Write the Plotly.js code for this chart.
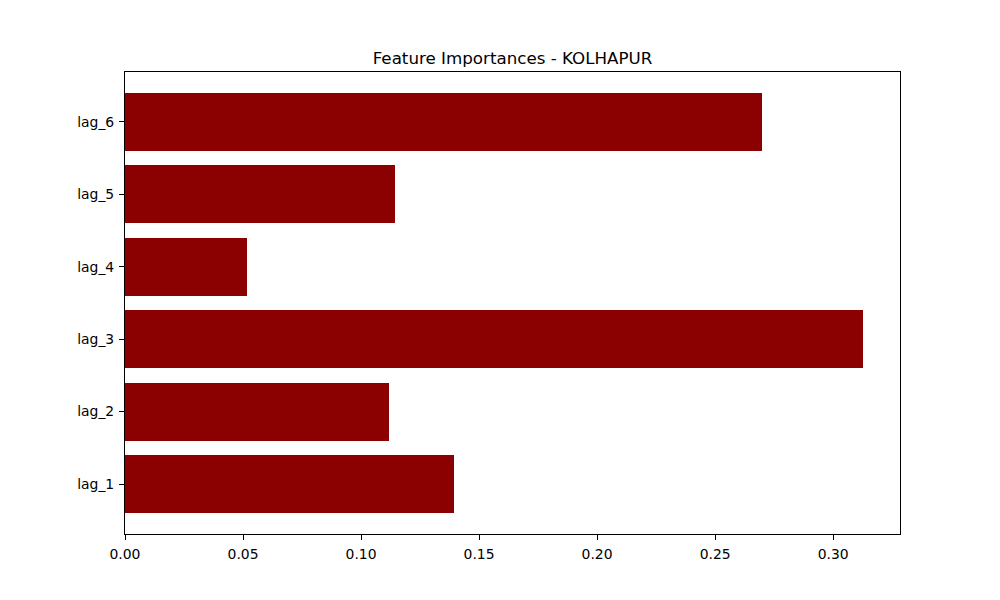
<!DOCTYPE html>
<html>
<head>
<meta charset="utf-8">
<script src="https://cdn.plot.ly/plotly-3.0.1.min.js"></script>
<style>
  html, body { margin: 0; padding: 0; background: #fff; }
  #chart { width: 1000px; height: 600px; }
</style>
</head>
<body>
<div id="chart"></div>
<script>
// ─── Data ───
const features = ["lag_1", "lag_2", "lag_3", "lag_4", "lag_5", "lag_6"];
const importances = [0.1394, 0.1119, 0.3127, 0.0517, 0.1144, 0.2699];
const xTicks = [0, 0.05, 0.10, 0.15, 0.20, 0.25, 0.30];

const barColor = "#8b0000";
const font = "DejaVu Sans, sans-serif";

const maxVal = Math.max(...importances);

Plotly.newPlot(
  "chart",
  [
    {
      type: "bar",
      orientation: "h",
      x: importances,
      y: features.map((_, i) => i),
      width: 0.8,
      marker: { color: barColor },
      hoverinfo: "x+text",
      text: features,
      textposition: "none",
    },
  ],
  {
    width: 1000,
    height: 600,
    paper_bgcolor: "#fff",
    plot_bgcolor: "#fff",
    margin: { l: 125, r: 100, t: 72, b: 66 },
    font: { family: font, size: 13.9, color: "#000" },
    title: {
      text: "Feature Importances - KOLHAPUR",
      font: { family: font, size: 16.7, color: "#000" },
      x: 0.5125,
      xanchor: "center",
      yref: "container",
      y: 1 - 58 / 600,
      yanchor: "middle",
    },
    xaxis: {
      range: [0, maxVal * 1.05],
      tickvals: xTicks,
      tickformat: ".2f",
      ticks: "outside",
      ticklen: 5,
      tickcolor: "#000",
      ticklabelstandoff: 2,
      showgrid: false,
      zeroline: false,
      showline: true,
      linecolor: "#000",
      linewidth: 1,
      mirror: true,
    },
    yaxis: {
      range: [-0.69, 5.69],
      tickvals: features.map((_, i) => i),
      ticktext: features,
      ticks: "outside",
      ticklen: 5,
      tickcolor: "#000",
      ticklabelstandoff: 2,
      showgrid: false,
      zeroline: false,
      showline: true,
      linecolor: "#000",
      linewidth: 1,
      mirror: true,
    },
    showlegend: false,
    bargap: 0,
  },
  { displayModeBar: false, staticPlot: true },
);
</script>
</body>
</html>
